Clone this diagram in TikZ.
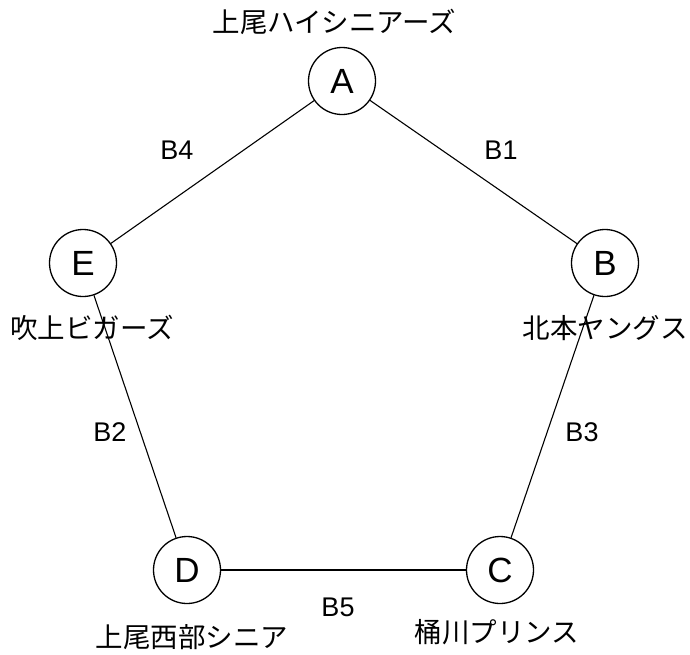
\documentclass[tikz,border=0pt]{standalone}
\usepackage{fontspec}
\setmainfont{Liberation Sans}
\newfontfamily\jp{Noto Sans CJK JP}
\tikzset{
  team/.style={circle,draw,line width=1.3pt,minimum size=67pt,inner sep=0pt,font=\fontsize{35}{35}\selectfont},
  link/.style={line width=1.1pt},
  tname/.style={inner sep=0pt,font=\jp\fontsize{27.5}{27.5}\selectfont},
  ename/.style={inner sep=0pt,font=\fontsize{27}{27}\selectfont}
}
\begin{document}
\begin{tikzpicture}[x=1pt,y=-1pt]
\useasboundingbox (0,0) rectangle (690,654);
\node[team] (A) at (342,81) {A};
\node[team] (B) at (605,263) {B};
\node[team] (C) at (500,570) {C};
\node[team] (D) at (187,570) {D};
\node[team] (E) at (83,263) {E};
\draw[link] (A) -- (B);
\draw[link] (B) -- (C);
\draw[link] (C) -- (D);
\draw[link] (D) -- (E);
\draw[link] (E) -- (A);
\node[tname] (tA) at (334.5,22) {上尾ハイシニアーズ};
\node[tname] (tB) at (605,328) {北本ヤングス};
\node[tname] (tC) at (497,632) {桶川プリンス};
\node[tname] (tD) at (192,637) {上尾西部シニア};
\node[tname] (tE) at (92,328) {吹上ビガーズ};
\node[ename] (b1) at (501,150) {B1};
\node[ename] (b4) at (177,150) {B4};
\node[ename] (b2) at (110,432) {B2};
\node[ename] (b3) at (582,432) {B3};
\node[ename] (b5) at (338,607) {B5};
\end{tikzpicture}
\end{document}
